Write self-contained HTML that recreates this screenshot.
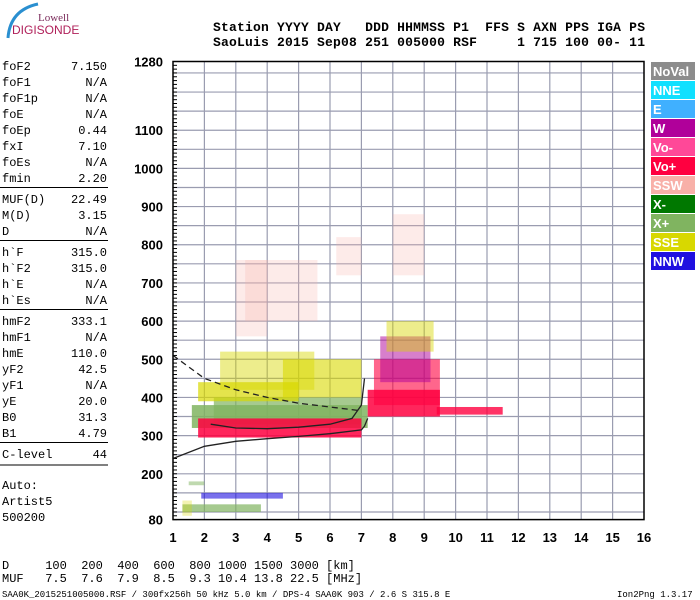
<!DOCTYPE html>
<html><head><meta charset="utf-8"><style>
body{margin:0;background:#fff;width:700px;height:600px;overflow:hidden}
svg{display:block}
text{white-space:pre}
.m{font-family:"Liberation Mono",monospace;font-size:12px;fill:#000}
.hb{font-family:"Liberation Mono",monospace;font-size:13px;font-weight:bold;fill:#000}
.ax{font-family:"Liberation Sans",sans-serif;font-size:13px;font-weight:bold;fill:#000}
.lg{font-family:"Liberation Sans",sans-serif;font-size:13px;font-weight:bold;fill:#fff}
</style></head><body>
<svg id="c" width="700" height="600" xmlns="http://www.w3.org/2000/svg">
<g>
<path d="M8 38 Q10 10 38 4" stroke="#2a8fd0" stroke-width="3" fill="none"/>
<text x="38" y="21" font-family="Liberation Serif,serif" font-size="11" fill="#7a2a5a">Lowell</text>
<text x="12" y="34" font-family="Liberation Sans,sans-serif" font-size="12" fill="#b0205a">DIGISONDE</text>
</g>
<g>
<text class="hb" x="213" y="31" textLength="432" lengthAdjust="spacing" xml:space="preserve">Station YYYY DAY   DDD HHMMSS P1  FFS S AXN PPS IGA PS</text>
<text class="hb" x="213" y="46" textLength="432" lengthAdjust="spacing" xml:space="preserve">SaoLuis 2015 Sep08 251 005000 RSF     1 715 100 00- 11</text>
</g>
<g id="params"></g>
<g id="plot"></g>
<g id="legend"></g>
<g>
<text class="m" x="2" y="569" xml:space="preserve">D     100  200  400  600  800 1000 1500 3000 [km]</text>
<text class="m" x="2" y="582" xml:space="preserve">MUF   7.5  7.6  7.9  8.5  9.3 10.4 13.8 22.5 [MHz]</text>
<text x="2" y="597" font-family="Liberation Mono,monospace" font-size="9" xml:space="preserve">SAA0K_2015251005000.RSF / 300fx256h 50 kHz 5.0 km / DPS-4 SAA0K 903 / 2.6 S 315.8 E</text>
<text x="617" y="597" font-family="Liberation Mono,monospace" font-size="9">Ion2Png 1.3.17</text>
</g>
</svg>
<script>
const NS="http://www.w3.org/2000/svg";
const paramNames=["foF2","foF1","foF1p","foE","foEp","fxI","foEs","fmin","MUF(D)","M(D)","D","h`F","h`F2","h`E","h`Es","hmF2","hmF1","hmE","yF2","yF1","yE","B0","B1","C-level"];
const paramVals=["7.150","N/A","N/A","N/A","0.44","7.10","N/A","2.20","22.49","3.15","N/A","315.0","315.0","N/A","N/A","333.1","N/A","110.0","42.5","N/A","20.0","31.3","4.79","44"];
const xTicks=[1,2,3,4,5,6,7,8,9,10,11,12,13,14,15,16];
const yTicks=[80,200,300,400,500,600,700,800,900,1000,1100,1280];
const legendNames=["NoVal","NNE","E","W","Vo-","Vo+","SSW","X-","X+","SSE","NNW"];
const legendColors=["#8c8c8c","#10e0ff","#40b0ff","#b0009a","#ff4898","#ff0040","#f8b0a8","#007800","#80b460","#d8d800","#2010e0"];
const clF0=[1.6,2.3,1.8,1.8,2.5,4.5,7.2,7.4,7.6,9.4,3.0,3.3,6.2,8.0,1.3,1.9,1.5,1.3,7.8];
const clF1=[7.2,7.0,7.0,5.0,5.5,7.0,9.5,9.5,9.2,11.5,4.0,5.6,7.0,9.0,3.8,4.5,2.0,1.6,9.3];
const clH0=[320,330,295,390,420,400,350,380,440,355,560,600,720,720,100,135,170,90,520];
const clH1=[380,400,345,440,520,500,420,500,560,375,760,760,820,880,120,150,180,130,600];
const clC=[8,8,5,9,9,9,5,5,3,5,6,6,6,6,8,10,8,9,9];
const clOp=[0.85,0.7,0.85,0.7,0.45,0.6,0.85,0.6,0.5,0.8,0.25,0.25,0.25,0.25,0.7,0.6,0.5,0.3,0.45];
const tr1F=[1,2,3,4,5,6,7,7.1,7.2];
const tr1H=[240,272,285,292,298,305,315,325,345];
const tr2F=[1,2,3,4,5,6,7];
const tr2H=[510,450,420,400,385,375,365];
const tr3F=[2.2,3,4,5,6,6.7,7,7.1];
const tr3H=[330,320,318,322,330,345,380,450];

const X0=173,X1=644,Y0=519.6,Y1=61.5;
const xs=f=>X0+(f-1)*(X1-X0)/15;
const ys=h=>Y0-(h-80)*(Y0-Y1)/1200;
function mk(tag,attrs,parent){const e=document.createElementNS(NS,tag);for(const k in attrs)e.setAttribute(k,attrs[k]);parent.appendChild(e);return e;}

const P=document.getElementById('params');
let y=70;
paramNames.forEach((n,i)=>{
  const t1=mk('text',{class:'m',x:2,y:y},P);t1.textContent=n;
  
  
  const t2=mk('text',{class:'m',x:107,y:y,'text-anchor':'end'},P);t2.textContent=paramVals[i];
  
  
  if(n==="fmin"||n==="D"||n==="h`Es"||n==="B1"){mk('line',{x1:0,x2:108,y1:y+5.5,y2:y+5.5,stroke:'#000','stroke-width':1},P);y+=5;}
  if(n==="C-level"){mk('line',{x1:0,x2:108,y1:y+7,y2:y+7,stroke:'#000','stroke-width':1},P);}
  y+=16;
});
[["Auto:",489],["Artist5",505],["500200",521]].forEach(a=>{const t=mk('text',{class:'m',x:2,y:a[1]},P);t.textContent=a[0];});

const G=document.getElementById('plot');
for(let h=100;h<=1250;h+=50){mk('line',{x1:X0,x2:X1,y1:ys(h),y2:ys(h),stroke:'#9a9cb0','stroke-width':1.2},G);}
for(let f=2;f<=15;f++){mk('line',{x1:xs(f),x2:xs(f),y1:Y1,y2:Y0,stroke:'#9a9cb0','stroke-width':1.2},G);}
for(let h=80;h<=1280;h+=10){mk('line',{x1:X0,x2:X0+4,y1:ys(h),y2:ys(h),stroke:'#000'},G);}
clF0.forEach((f0,i)=>{
  const r=mk('rect',{x:xs(f0),y:ys(clH1[i]),width:xs(clF1[i])-xs(f0),height:ys(clH0[i])-ys(clH1[i]),fill:legendColors[clC[i]],opacity:clOp[i]},G);
  
  
});
function trace(F,H,dash,name){
  const d=F.map((f,i)=>(i?'L':'M')+xs(f).toFixed(1)+' '+ys(H[i]).toFixed(1)).join(' ');
  const p=mk('path',{d:d,fill:'none',stroke:'#222','stroke-width':1.3},G);
  if(dash)p.setAttribute('stroke-dasharray','6 4');
  
  
}
trace(tr1F,tr1H,false,'virtual-height-trace');
trace(tr2F,tr2H,true,'muf-curve');
trace(tr3F,tr3H,false,'f-trace');
mk('rect',{x:X0,y:Y1,width:X1-X0,height:Y0-Y1,fill:'none',stroke:'#000','stroke-width':1.5},G);
xTicks.forEach(f=>{
  const t=mk('text',{class:'ax',x:xs(f),y:542,'text-anchor':'middle'},G);t.textContent=f;
  
  
});
yTicks.forEach(h=>{
  const t=mk('text',{class:'ax',x:163,y:ys(h)+5,'text-anchor':'end'},G);t.textContent=h;
  
  
});
const L=document.getElementById('legend');
legendNames.forEach((n,i)=>{
  const r=mk('rect',{x:651,y:62+i*19,width:44,height:18,fill:legendColors[i]},L);
  
  
  const t=mk('text',{class:'lg',x:653,y:76+i*19},L);t.textContent=n;
  
  
});
</script>
</body></html>
